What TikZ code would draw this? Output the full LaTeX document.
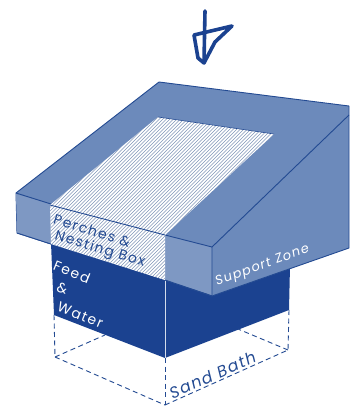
\documentclass[tikz,border=0pt]{standalone}
\usepackage{fontspec}
\setmainfont{Poppins}
\definecolor{midb}{HTML}{6C8ABB}
\definecolor{darkb}{HTML}{1B4290}
\definecolor{lineb}{HTML}{234A92}
\definecolor{hatchb}{HTML}{8095B8}
\tikzset{
  px/.style={x=1pt,y=-1pt},
  edge/.style={draw=lineb,line width=0.9pt,line join=round},
  dashline/.style={draw=lineb,line width=0.9pt,dash pattern=on 5pt off 3.5pt},
  lbl/.style={inner sep=0pt,font=\fontsize{#1}{#1}\selectfont\addfontfeatures{LetterSpace=10}},
  lblit/.style={inner sep=0pt,font=\fontsize{#1}{#1}\selectfont\itshape\addfontfeatures{LetterSpace=9}},
  penline/.style={draw=darkb,line width=3.6pt,line cap=round,line join=round}
}
\begin{document}
\begin{tikzpicture}[px]
\useasboundingbox (0,0) rectangle (349,407);
\fill[white] (0,0) rectangle (349,407);
% dark base
\fill[darkb] (51,243) -- (165,280) -- (212,296) -- (290,266) -- (289,310) -- (165,358) -- (54,315) -- cycle;
\draw[white!70!midb,line width=0.8pt] (165,280) -- (165,358);
% dashed sand bath
\coordinate (a) at (54,315); \coordinate (b) at (55,357); \coordinate (c) at (165,405);
\coordinate (d) at (288,350); \coordinate (e) at (289,310); \coordinate (f) at (165,358);
\draw[dashline] (a) -- (b); \draw[dashline] (b) -- (c); \draw[dashline] (f) -- (c); \draw[dashline] (c) -- (d); \draw[dashline] (e) -- (d);
\draw[dashline] (b) -- (105,335); \draw[dashline] (d) -- (238,329);
% roof and faces
\path[edge,fill=midb] (159,82) -- (349,106) -- (349,248) -- (212,296) -- (165,280) -- (165,235) -- (51,204) -- (51,244) -- (17,233) -- (16,193) -- cycle;
\draw[edge] (212,247) -- (349,115);
\fill[midb!88!white] (17,233) -- (16,194) -- (51,204) -- (51,244) -- cycle;
\fill[midb!88!white] (165,235) -- (212,247) -- (212,295) -- (165,280) -- cycle;
\draw[edge] (16,193) -- (51,204) (17,233) -- (51,244);
\draw[edge] (165,235) -- (212,247) -- (212,296) -- (165,280);
% hatched panel
\fill[white] (158,117) -- (274,134) -- (165,235) -- (165,280) -- (51,244) -- (50,205) -- cycle;
\begin{scope}
\clip (158,117) -- (274,134) -- (165,235) -- (165,280) -- (51,244) -- (50,205) -- cycle;
\foreach \k in {-60,-56.5,...,170} {\draw[hatchb,line width=0.6pt] (\k,300) -- (\k+200,100);}
\end{scope}
\draw[edge,line width=0.6pt] (158,117) -- (274,134);
\draw[edge] (50,205) -- (165,235);
% labels
\node[lbl=14,text=lineb,rotate=-17,anchor=west] (pn1) at (54,219) {Perches \&};
\node[lbl=14,text=lineb,rotate=-17,anchor=west] (pn2) at (55,236) {Nesting Box};
\node[lbl=14,text=white,rotate=-22,anchor=west] (f1) at (54,265) {Feed};
\node[lbl=14,text=white,rotate=-17,anchor=west] (f2) at (57,287) {\&};
\node[lbl=14,text=white,rotate=-22,anchor=west] (f3) at (58,306) {Water};
\node[lblit=13,text=white,rotate=20,anchor=west] (sz) at (216,283) {Support Zone};
\node[lblit=16,text=lineb,rotate=24,anchor=west] (sb) at (170,394) {Sand Bath};
% pen mark
\draw[penline] (205,11) -- (204,62);
\draw[penline] (232,26) -- (194,35) -- (198,58) -- (204,63) -- (215,42) -- (232,26);
\end{tikzpicture}
\end{document}
